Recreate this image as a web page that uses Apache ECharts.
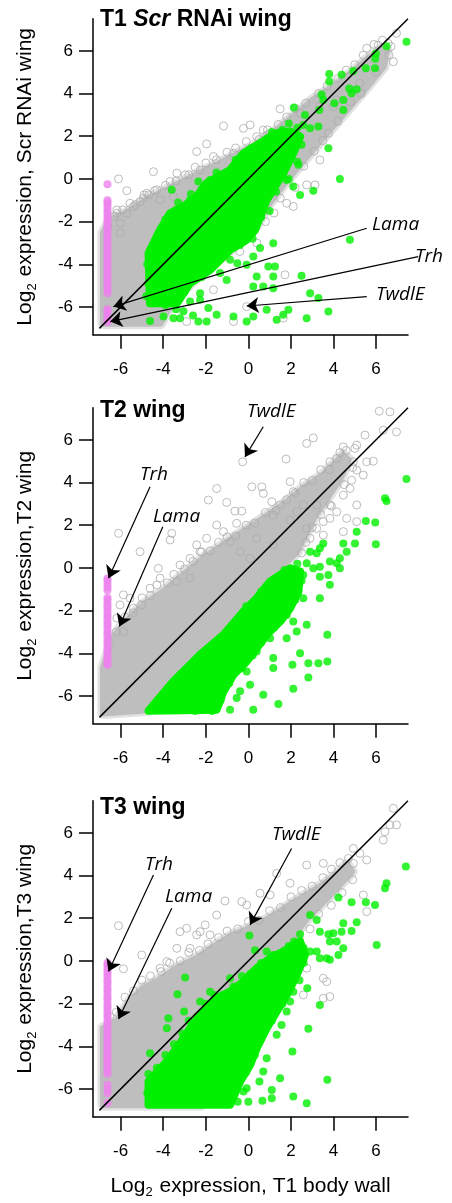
<!DOCTYPE html>
<html>
<head>
<meta charset="utf-8">
<script src="https://cdn.jsdelivr.net/npm/echarts@6/dist/echarts.min.js"></script>
<style>
  html, body { margin: 0; padding: 0; background: #fff; }
  #chart { width: 452px; height: 1203px; }
</style>
</head>
<body>
<div id="chart"></div>
<script>
const xTicks = [-6, -4, -2, 0, 2, 4, 6];
const yTicks = [-6, -4, -2, 0, 2, 4, 6];
const diagonal = [-7, 7.5];

// T1 Scr RNAi wing
const p1GrayCloud = [
  [-6.81, -6.76], [-6.81, -2.54], [-6.49, -1.92], [-5.71, -1.61], [-4.77, -0.98], [-3.52, -0.36],
  [-2.27, 0.27], [-1.02, 0.89], [0.23, 1.51], [1.17, 2.14], [2.11, 2.92], [3.05, 3.70], [3.99, 4.32],
  [4.93, 5.02], [5.56, 5.57], [6.18, 6.04], [6.49, 6.04], [6.34, 5.26], [5.56, 4.32], [4.62, 3.23],
  [3.68, 2.14], [2.74, 1.05], [1.80, -0.05], [0.86, -1.30], [0.23, -2.39], [-0.70, -3.17],
  [-1.80, -4.10], [-2.74, -4.88], [-3.52, -5.66], [-4.15, -6.76]
];
const p1GrayOpen = [
  [-6.10, 0.0], [-5.71, -0.55], [-4.46, 0.34], [-3.36, 0.27], [-2.97, 0.19], [-1.96, 1.64], [-1.17, 2.48],
  [-0.23, 2.37], [0.08, 2.53], [0.39, 1.98], [0.86, 2.06], [1.33, 1.75], [1.49, 3.28], [2.43, 3.07],
  [3.36, 3.39], [3.99, 3.39], [5.56, 6.12], [6.10, 6.27], [6.81, 5.49], [6.96, 6.82], [6.57, 6.35],
  [5.24, 4.48], [4.15, 3.70], [3.76, 2.14], [3.36, 0.89], [3.13, -0.28], [2.74, -0.28], [1.72, -4.49],
  [-0.39, -2.70], [-2.43, 1.28], [-3.52, -0.83], [-4.93, -0.90], [-4.77, -0.67], [-4.15, -0.98],
  [-1.64, 1.05], [-0.70, 1.20], [0.70, 2.29], [-2.27, 0.42], [-3.68, -0.12], [-4.30, -0.51],
  [-5.40, -1.29], [-6.18, -1.45], [-6.02, -2.54], [0.23, 0.19], [0.55, -1.61], [1.80, -1.14],
  [2.11, -1.29], [-2.90, -6.68], [-0.70, -6.68], [1.64, -6.52], [-1.64, -5.19], [-0.08, -5.98],
  [-6.18, -1.61], [-6.02, -2.08], [-5.56, -1.14], [-5.09, -1.06], [-4.69, -0.75], [-5.71, -1.61],
  [-6.6, -2.2], [-6.3, -1.75], [-5.9, -1.45], [-5.3, -1.2], [-4.9, -0.75], [-4.4, -0.55], [-3.9, -0.3],
  [-3.4, -0.1], [-2.8, 0.2], [-2.5, 0.55], [-2.0, 0.75], [-1.5, 0.9], [-1.0, 1.25], [-0.6, 1.45],
  [-0.1, 1.75], [0.5, 1.85], [0.9, 2.3], [1.4, 2.55], [1.8, 2.9], [2.2, 3.3], [2.7, 3.55], [3.3, 4.0],
  [3.7, 4.35], [4.2, 4.7], [4.6, 5.1], [5.0, 5.35], [5.4, 5.8], [5.9, 6.3], [6.3, 6.5], [6.7, 6.2],
  [6.6, 5.8], [6.0, 5.0], [5.3, 4.0], [4.8, 3.6], [4.2, 2.7], [3.5, 1.8], [3.1, 1.3], [2.6, 0.6],
  [2.2, -0.4], [1.5, -0.9], [1.2, -1.6], [0.8, -2.0], [0.4, -3.0], [-0.4, -3.4]
];
const p1GreenCloud = [
  [-4.69, -3.48], [-4.15, -2.39], [-3.68, -1.61], [-3.05, -1.29], [-2.43, -0.83], [-1.96, -0.20],
  [-0.86, 0.42], [-0.23, 1.20], [0.55, 1.67], [1.33, 2.14], [1.96, 2.22], [2.43, 1.98], [2.11, 1.20],
  [1.64, 0.27], [0.86, -0.98], [0.31, -2.39], [-0.08, -2.85], [-0.86, -3.32], [-1.80, -4.26],
  [-2.74, -4.88], [-3.36, -5.82], [-4.62, -5.82]
];
const p1Green = [
  [7.43, 6.43], [6.49, 6.22], [5.99, 5.88], [5.96, 5.63], [5.52, 5.18], [5.95, 5.18], [4.93, 5.05],
  [4.74, 4.24], [5.09, 4.20], [4.85, 4.01], [4.46, 3.70], [4.46, 3.23], [4.04, 3.54], [3.80, 4.91],
  [3.80, 4.56], [4.38, 4.88], [3.44, 3.96], [3.52, 3.70], [3.33, 3.23], [3.29, 2.45], [2.90, 2.37],
  [2.66, 3.00], [2.14, 3.35], [2.58, 2.53], [3.76, 1.44], [2.35, 0.66], [2.11, -0.36], [2.43, -0.75],
  [3.05, -0.55], [4.30, 0.0], [4.77, -2.85], [1.17, -3.01], [0.55, -3.24], [0.23, -3.63], [-0.08, -4.02],
  [0.94, -4.10], [1.25, -4.10], [1.17, -4.57], [0.39, -4.57], [0.23, -5.04], [0.70, -5.04], [1.17, -5.12],
  [2.50, -4.54], [2.90, -5.35], [3.29, -5.58], [3.76, -6.21], [2.74, -6.52], [1.88, -6.13], [1.64, -6.36],
  [1.33, -6.60], [0.86, -6.13], [0.23, -6.44], [-0.08, -6.68], [-0.70, -6.44], [-1.49, -6.36],
  [-1.96, -6.68], [-2.35, -6.68], [-2.74, -5.74], [-2.27, -5.66], [-1.88, -6.05], [-3.21, -6.52],
  [-3.52, -6.52], [-3.99, -6.44], [-4.62, -6.65], [-1.33, -4.41], [-1.02, -4.73], [-1.49, -3.79],
  [-0.86, -3.79], [-0.52, -3.95], [-0.70, -2.54], [-3.60, -0.51], [-2.35, -0.12], [-1.80, -0.05],
  [0.86, -0.67], [1.17, -0.36], [1.80, -0.05], [-3.52, -4.73], [-2.27, -5.35], [-3.05, -6.2], [-2.6, -6.4],
  [-4.5, -3.2], [-4.3, -2.7], [-3.9, -1.9], [-3.3, -1.1], [-2.7, -0.7], [-1.5, 0.3], [-0.6, 0.9],
  [0.3, 1.5], [1.1, 2.2], [1.9, 2.6], [-4.55, -4.6], [-4.5, -5.3],
  [-4.75, -4.0], [-4.7, -4.9], [-4.8, -5.5], [-4.35, -2.9], [-3.9, -2.1], [-3.4, -1.45], [-2.75, -1.0],
  [-2.2, -0.5], [-1.4, 0.1], [-0.55, 0.8], [0.15, 1.45], [0.9, 1.9], [1.6, 2.3], [2.3, 2.4], [2.5, 1.6],
  [2.3, 0.8], [1.9, 0.0], [1.3, -0.6], [1.0, -1.5], [0.6, -1.8], [0.2, -2.8], [-0.4, -3.1], [-1.3, -3.7],
  [-2.2, -4.6], [-3.0, -5.3], [-3.4, -6.1], [-3.9, -5.9]
];
const p1PinkY = [
  -0.25, -1.0, -1.1, -1.2, -1.35, -1.5, -1.6, -1.75, -1.9, -2.0, -2.15, -2.3, -2.4, -2.55, -2.7, -2.8,
  -2.95, -3.1, -3.2, -3.35, -3.5, -3.6, -3.75, -3.9, -4.0, -4.15, -4.3, -4.4, -4.55, -4.7, -4.8, -4.95,
  -5.1, -5.2, -5.35, -6.1, -6.2, -6.35, -6.5, -6.6, -6.7
];
const p1Arrows = [
  { gene: 'Lama', from: [5.56, -2.31], to: [-6.34, -5.98] },
  { gene: 'Trh', from: [7.98, -3.64], to: [-6.49, -6.68] },
  { gene: 'TwdlE', from: [5.56, -5.51], to: [-0.08, -5.95] }
];

// T2 wing
const p2GrayCloud = [
  [-6.81, -6.79], [-6.81, -4.69], [-6.34, -3.29], [-5.87, -2.66], [-4.93, -1.73], [-3.99, -1.11],
  [-3.05, -0.33], [-2.11, 0.45], [-1.17, 1.08], [-0.23, 1.70], [0.70, 2.32], [1.64, 2.95], [2.58, 3.72],
  [3.52, 4.35], [4.15, 4.97], [4.46, 5.28], [4.69, 5.05], [4.30, 4.19], [3.68, 3.26], [3.05, 2.32],
  [2.58, 1.39], [2.27, 0.76], [1.33, -0.17], [0.39, -1.26], [-0.23, -2.04], [-1.17, -3.13],
  [-2.27, -4.07], [-3.52, -5.31], [-4.69, -6.64]
];
const p2GrayOpen = [
  [-0.27, 4.97], [1.77, 5.10], [2.74, 5.83], [3.05, 6.09], [6.15, 7.34], [6.65, 7.31], [6.34, 6.45],
  [6.96, 6.37], [5.48, 6.22], [5.09, 5.75], [4.46, 5.67], [4.15, 5.13], [3.83, 4.97], [4.93, 4.97],
  [5.56, 4.97], [5.87, 5.00], [5.09, 4.58], [5.40, 4.35], [4.85, 4.11], [4.77, 3.72], [4.46, 3.41],
  [3.83, 2.95], [4.15, 2.63], [5.09, 2.95], [4.62, 2.32], [5.09, 2.17], [4.46, 1.70], [3.52, 1.54],
  [3.21, 1.85], [3.52, 2.17], [3.21, 2.95], [2.58, 2.95], [3.83, 2.32], [-1.49, 3.72], [-1.88, 3.18],
  [-1.02, 3.07], [-0.63, 2.66], [-0.31, 2.66], [0.16, 3.80], [0.70, 3.49], [0.63, 3.80], [1.10, 3.10],
  [1.49, 2.95], [1.96, 4.04], [2.11, 3.57], [1.17, 2.48], [1.96, 2.24], [2.27, 2.63], [-0.55, 2.09],
  [-1.17, 1.70], [-1.49, 2.01], [-2.43, 1.08], [-2.27, 0.76], [-2.74, 0.45], [-3.21, 0.14], [-3.68, 1.31],
  [-3.60, 1.62], [-4.23, -0.02], [-4.15, -0.48], [-4.62, -0.95], [-5.09, 0.76], [-6.10, 1.62],
  [-5.87, -1.26], [-5.56, -1.42], [-5.01, -1.73], [-5.40, -1.89], [-6.03, -1.73], [-6.18, -2.35],
  [-5.87, -2.98], [1.17, 1.08], [0.08, 0.45], [-0.39, 0.76], [0.39, 1.39], [-0.86, 1.23], [-1.96, 1.39],
  [-2.74, -0.48], [-3.36, -0.64], [2.74, 1.85], [2.90, 1.39],
  [-6.5, -3.6], [-6.2, -3.0], [-5.8, -2.3], [-5.4, -2.1], [-5.0, -1.4], [-4.6, -1.3], [-4.3, -0.8],
  [-3.8, -0.7], [-3.5, -0.3], [-3.0, -0.05], [-2.6, 0.3], [-2.2, 0.75], [-1.8, 0.8], [-1.4, 1.2],
  [-1.0, 1.45], [-0.6, 1.5], [-0.1, 2.0], [0.3, 2.1], [0.8, 2.6], [1.3, 2.7], [1.8, 3.2], [2.2, 3.5],
  [2.6, 4.0], [3.0, 4.1], [3.4, 4.6], [3.8, 4.6], [4.3, 5.4], [4.6, 5.5], [5.0, 5.6], [4.9, 4.7],
  [4.5, 3.9], [3.9, 2.9], [3.4, 2.5], [3.0, 1.9], [2.7, 1.2], [2.5, 0.7]
];
const p2GreenCloud = [
  [-4.69, -6.69], [-3.52, -5.31], [-2.27, -4.07], [-1.17, -3.13], [-0.23, -2.04], [0.39, -1.42],
  [1.02, -0.64], [1.96, -0.02], [2.43, -0.17], [2.35, -1.11], [1.96, -1.89], [1.49, -2.51], [0.86, -3.13],
  [0.39, -3.76], [-0.08, -4.38], [-0.70, -5.00], [-1.17, -5.78], [-1.49, -6.64]
];
const p2Green = [
  [7.43, 4.16], [6.42, 3.26], [6.49, 3.13], [5.52, 2.20], [5.96, 2.13], [5.09, 1.70], [5.01, 1.15],
  [5.99, 1.11], [4.46, 1.15], [4.62, 0.76], [4.30, 0.45], [3.52, 1.15], [3.36, 0.92], [3.21, 0.69],
  [2.90, 0.76], [2.74, 0.22], [3.05, -0.02], [3.36, 0.06], [3.83, 0.30], [4.15, 0.22], [4.30, -0.02],
  [3.76, -0.33], [2.58, -0.33], [3.36, -0.41], [3.83, -0.79], [2.58, -1.42], [3.36, -1.42], [2.74, -2.66],
  [2.11, -2.51], [2.27, -2.98], [3.71, -3.13], [2.43, -3.99], [2.82, -4.46], [3.29, -4.46], [3.71, -4.38],
  [2.07, -4.53], [2.82, -5.13], [2.11, -5.66], [1.41, -6.37], [0.70, -5.94], [0.39, -3.91], [1.17, -4.22],
  [1.17, -4.69], [-0.08, -4.85], [0.08, -5.47], [-0.39, -5.78], [-0.55, -6.09], [0.23, -6.64],
  [-0.86, -6.64], [0.55, -2.35], [1.33, -1.89], [1.64, -1.11], [1.02, -3.29], [1.80, -3.29],
  [-4.4, -6.4], [-4.0, -5.9], [-3.2, -5.0], [-2.7, -4.6], [-1.9, -3.9], [-1.5, -3.5], [-0.7, -2.7],
  [-0.1, -1.8], [0.6, -1.1], [1.3, -0.5], [1.7, -0.1], [2.3, 0.2], [2.5, -0.6], [2.2, -1.5], [1.8, -2.2],
  [1.2, -2.8], [0.6, -3.5], [0.2, -4.1], [-0.3, -4.7], [-0.9, -5.4], [-1.3, -6.2], [-1.7, -6.7], [-2.5, -6.7]
];
const p2PinkY = [
  -0.5, -0.6, -0.75, -0.9, -1.05, -1.4, -1.5, -1.65, -1.8, -1.9, -2.05, -2.2, -2.3, -2.45, -2.6, -2.7,
  -2.85, -3.0, -3.1, -3.25, -3.4, -3.5, -3.65, -3.8, -3.9, -4.05, -4.2, -4.3, -4.45, -4.55
];
const p2Arrows = [
  { gene: 'TwdlE', from: [0.70, 6.61], to: [-0.16, 5.20] },
  { gene: 'Trh', from: [-4.62, 3.80], to: [-6.57, -0.48] },
  { gene: 'Lama', from: [-4.02, 1.93], to: [-6.06, -2.74] }
];

// T3 wing
const p3GrayCloud = [
  [-6.81, -6.74], [-6.81, -3.15], [-6.18, -2.84], [-5.56, -1.90], [-4.93, -1.28], [-4.30, -0.97],
  [-3.36, -0.34], [-2.43, 0.12], [-1.49, 0.75], [-0.70, 1.22], [0.08, 1.53], [1.02, 2.00], [1.96, 2.62],
  [2.74, 3.09], [3.52, 3.56], [4.15, 4.03], [4.62, 4.49], [4.85, 4.18], [3.83, 3.09], [2.74, 2.00],
  [1.96, 0.91], [1.33, -0.34], [0.39, -1.59], [-0.39, -2.84], [-1.17, -4.09], [-1.80, -5.49],
  [-2.27, -6.74]
];
const p3GrayOpen = [
  [6.81, 7.15], [6.65, 6.37], [6.96, 6.37], [6.42, 6.05], [6.34, 5.66], [4.93, 5.27], [5.24, 5.04],
  [5.56, 4.73], [4.93, 4.57], [5.40, 3.09], [5.56, 2.31], [3.52, 4.57], [2.74, 4.49], [1.96, 3.64],
  [1.33, 4.10], [1.02, 3.09], [0.55, 3.17], [-0.08, 2.62], [-0.31, 2.78], [-1.10, 2.81], [-1.49, 2.15],
  [-2.03, 1.69], [-2.27, 1.37], [-2.90, 1.53], [-3.21, 1.37], [-2.43, 1.22], [-1.80, 1.22], [-6.10, 1.65],
  [-5.01, 0.28], [-5.87, -0.37], [-4.15, -0.34], [-3.83, -0.03], [-3.36, 0.59], [-2.74, 0.59],
  [3.52, -0.81], [3.68, -0.97], [3.52, -1.75], [3.83, -1.67], [2.74, -0.34], [-0.47, -5.52], [2.58, -1.59],
  [-6.5, -2.6], [-6.2, -2.4], [-5.8, -1.7], [-5.4, -1.4], [-5.0, -0.9], [-4.6, -0.7], [-4.1, -0.5],
  [-3.7, -0.1], [-3.2, 0.0], [-2.8, 0.4], [-2.3, 0.5], [-1.9, 0.8], [-1.4, 1.1], [-1.0, 1.4], [-0.5, 1.5],
  [0.0, 1.85], [0.5, 1.9], [1.0, 2.35], [1.5, 2.5], [2.0, 3.0], [2.5, 3.3], [3.0, 3.5], [3.5, 3.9],
  [3.9, 4.3], [4.3, 4.6], [4.7, 4.8], [4.9, 3.8], [4.4, 3.2], [3.9, 2.6], [3.3, 2.2], [2.9, 1.5], [2.4, 1.0]
];
const p3GreenCloud = [
  [-4.69, -6.74], [-4.69, -5.65], [-3.83, -4.71], [-3.36, -4.09], [-2.74, -3.15], [-2.11, -2.37],
  [-1.49, -1.75], [-0.86, -1.44], [-0.23, -0.97], [0.39, -0.34], [1.02, 0.12], [1.64, 0.44], [2.43, 0.91],
  [2.66, 0.28], [2.27, -0.66], [1.80, -1.59], [1.33, -2.37], [0.86, -3.15], [0.39, -4.09], [0.08, -4.87],
  [-0.39, -5.65], [-0.86, -6.74]
];
const p3Green = [
  [7.40, 4.42], [6.49, 3.64], [6.42, 3.40], [5.95, 2.62], [5.52, 2.75], [4.85, 2.75], [4.23, 2.97],
  [6.03, 0.75], [5.09, 1.81], [4.85, 1.40], [4.46, 1.76], [4.38, 1.37], [3.99, 1.30], [3.76, 1.25],
  [3.83, 0.91], [4.15, 0.91], [4.46, 0.59], [4.23, 0.28], [3.68, 0.12], [3.36, 0.12], [3.83, 0.05],
  [3.21, 0.44], [2.90, 0.44], [3.36, 1.37], [3.21, 1.92], [2.90, 2.15], [2.43, 1.25], [2.14, 0.91],
  [0.05, 1.19], [0.31, 0.50], [0.86, 0.44], [1.17, 0.28], [-0.86, -0.81], [-2.97, -0.78], [-3.33, -1.56],
  [-3.02, -2.37], [-3.76, -2.68], [-3.83, -3.15], [-4.62, -4.32], [2.82, -3.18], [3.36, -2.06],
  [2.77, -1.28], [2.11, -1.44], [1.96, -1.90], [1.80, -2.37], [1.56, -3.00], [1.33, -3.46], [2.07, -4.24],
  [0.86, -4.56], [0.70, -5.18], [0.52, -5.65], [1.10, -6.04], [1.10, -6.43], [0.66, -6.55], [2.11, -6.35],
  [2.74, -6.66], [3.71, -5.57], [-0.08, -5.96], [-0.23, -6.12], [1.49, -5.49], [-2.27, -1.90], [-1.80, -1.44],
  [-4.75, -6.2], [-4.7, -5.3], [-4.3, -5.0], [-3.9, -4.4], [-3.5, -3.9], [-3.1, -3.4], [-2.8, -2.8],
  [-2.4, -2.6], [-2.0, -2.0], [-1.6, -1.6], [-1.2, -1.6], [-0.7, -1.2], [-0.3, -0.7], [0.1, -0.6],
  [0.6, -0.1], [1.3, 0.2], [1.9, 0.7], [2.6, 0.6], [2.6, -0.1], [2.4, -0.9], [2.0, -1.2], [1.6, -2.0],
  [1.1, -2.8], [0.6, -3.6], [0.3, -4.4], [-0.1, -5.2], [-0.6, -6.0], [-0.5, -6.6], [0.0, -6.6]
];
const p3PinkY = [
  -0.1, -0.2, -0.35, -0.5, -0.6, -0.75, -0.9, -1.0, -1.15, -1.3, -1.4, -1.55, -1.7, -1.8, -1.95, -2.1,
  -2.2, -2.35, -2.5, -2.6, -2.75, -2.9, -3.0, -3.15, -3.3, -3.4, -3.55, -3.7, -3.8, -3.95, -4.1, -4.2,
  -4.35, -4.5, -4.6, -4.75, -4.9, -5.0, -5.15, -5.3, -5.8, -6.0, -6.2, -6.65
];
const p3Arrows = [
  { gene: 'TwdlE', from: [2.03, 5.27], to: [0.08, 1.69] },
  { gene: 'Trh', from: [-4.46, 4.03], to: [-6.57, -0.50] },
  { gene: 'Lama', from: [-3.60, 2.47], to: [-6.10, -2.72] }
];
const pinkX = -6.62;

const GRAY = '#bebebe';
const GREEN = '#00f000';
const PINK = '#ee82ee';
const FONT = '"Liberation Sans", Arial, sans-serif';

const panels = [
  { top: 18.8, title: '{b|T1 }{bi|Scr}{b| RNAi wing}', titleTop: 8, yName: 'Scr RNAi wing', sep: ' ',
    grayCloud: p1GrayCloud, grayOpen: p1GrayOpen, greenCloud: p1GreenCloud, green: p1Green, pinkY: p1PinkY,
    arrows: p1Arrows, labels: [[372, 225], [415, 257], [376, 295]] },
  { top: 407.8, title: '{b|T2 wing}', titleTop: 399, yName: 'T2 wing', sep: '',
    grayCloud: p2GrayCloud, grayOpen: p2GrayOpen, greenCloud: p2GreenCloud, green: p2Green, pinkY: p2PinkY,
    arrows: p2Arrows, labels: [[247, 412], [140, 475], [153, 517]] },
  { top: 800.8, title: '{b|T3 wing}', titleTop: 796, yName: 'T3 wing', sep: '',
    grayCloud: p3GrayCloud, grayOpen: p3GrayOpen, greenCloud: p3GreenCloud, green: p3Green, pinkY: p3PinkY,
    arrows: p3Arrows, labels: [[272, 835], [145, 865], [165, 897]] }
];

const nameRich = {
  n: { fontFamily: FONT, fontSize: 21, color: '#000', lineHeight: 24 },
  s: { fontFamily: FONT, fontSize: 13, color: '#000', lineHeight: 13, padding: [14, 1, 0, 0] }
};

// dense part of a cloud: a soft halo for the fringe, then the solid core
function cloud(points, color, width, halo) {
  return function (params, api) {
    const pts = points.map((p) => api.coord(p));
    const children = [];
    if (halo) {
      children.push({ type: 'polygon', shape: { points: pts },
        style: { fill: 'none', stroke: halo, lineWidth: 12, lineJoin: 'round' } });
    }
    children.push({ type: 'polygon', shape: { points: pts },
      style: { fill: color, stroke: color, lineWidth: width, lineJoin: 'round' } });
    return { type: 'group', children: children };
  };
}

const chart = echarts.init(document.getElementById('chart'));
const series = [];
const graphic = [];

panels.forEach((p, i) => {
  const axes = { xAxisIndex: i, yAxisIndex: i };
  series.push(
    { type: 'custom', ...axes, data: [0], clip: true, silent: true, z: 1,
      renderItem: cloud(p.grayCloud, GRAY, 7, 'rgba(190,190,190,0.45)') },
    { type: 'scatter', ...axes, data: p.grayOpen, symbolSize: 8, silent: true, z: 2,
      itemStyle: { color: 'rgba(0,0,0,0)', borderColor: '#ababab', borderWidth: 1 } },
    { type: 'custom', ...axes, data: [0], clip: true, silent: true, z: 3, renderItem: cloud(p.greenCloud, GREEN, 8) },
    { type: 'scatter', ...axes, data: p.green, symbolSize: 8, silent: true, z: 4, itemStyle: { color: GREEN } },
    { type: 'scatter', ...axes, data: p.pinkY.map((y) => [pinkX, y]), symbolSize: 8, silent: true, z: 5,
      itemStyle: { color: PINK } },
    { type: 'line', ...axes, data: [[diagonal[0], diagonal[0]], [diagonal[1], diagonal[1]]], symbol: 'none',
      silent: true, z: 6, lineStyle: { color: '#000', width: 1.5 } },
    { type: 'lines', coordinateSystem: 'cartesian2d', ...axes, clip: false, silent: true, z: 7,
      symbol: ['none', 'arrow'], symbolSize: [7, 12],
      lineStyle: { color: '#000', width: 1.2, opacity: 1, curveness: 0 },
      data: p.arrows.map((a) => ({ coords: [a.from, a.to] })) }
  );
  p.arrows.forEach((a, k) => {
    graphic.push({
      type: 'text', x: p.labels[k][0], y: p.labels[k][1], silent: true,
      style: { text: a.gene, fontFamily: '"Open Sans", sans-serif', fontStyle: 'italic', fontSize: 19,
        fill: '#000', verticalAlign: 'middle' }
    });
  });
});

const axisCommon = {
  type: 'value', min: -7.3, max: 7.5,
  splitLine: { show: false },
  axisLine: { show: true, onZero: false, lineStyle: { color: '#000', width: 1.5 } },
  axisTick: { show: true, length: 14, lineStyle: { color: '#000', width: 1.5 } }
};

chart.setOption({
  animation: false,
  backgroundColor: '#fff',
  title: panels.map((p) => ({
    text: p.title, left: 100, top: p.titleTop, padding: 0,
    textStyle: { rich: {
      b: { fontFamily: FONT, fontWeight: 'bold', fontSize: 23, color: '#000' },
      bi: { fontFamily: FONT, fontWeight: 'bold', fontStyle: 'italic', fontSize: 23, color: '#000' }
    } }
  })),
  grid: panels.map((p) => ({ left: 93, top: p.top, width: 315, height: 316 })),
  xAxis: panels.map((p, i) => ({
    ...axisCommon, gridIndex: i,
    axisTick: { ...axisCommon.axisTick, customValues: xTicks },
    axisLabel: { customValues: xTicks, margin: 26, color: '#000', fontSize: 17, fontFamily: FONT },
    name: i === 2 ? '{n|Log}{s|2}{n| expression, T1 body wall}' : '',
    nameLocation: 'middle', nameGap: 57,
    nameTextStyle: { rich: nameRich }
  })),
  yAxis: panels.map((p, i) => ({
    ...axisCommon, gridIndex: i,
    axisTick: { ...axisCommon.axisTick, customValues: yTicks },
    axisLabel: { customValues: yTicks, margin: 20, color: '#000', fontSize: 17, fontFamily: FONT },
    name: '{n|Log}{s|2}{n| expression,' + p.sep + p.yName + '}',
    nameLocation: 'middle', nameGap: 56,
    nameTextStyle: { rich: nameRich }
  })),
  series: series,
  graphic: graphic
});
</script>
</body>
</html>
